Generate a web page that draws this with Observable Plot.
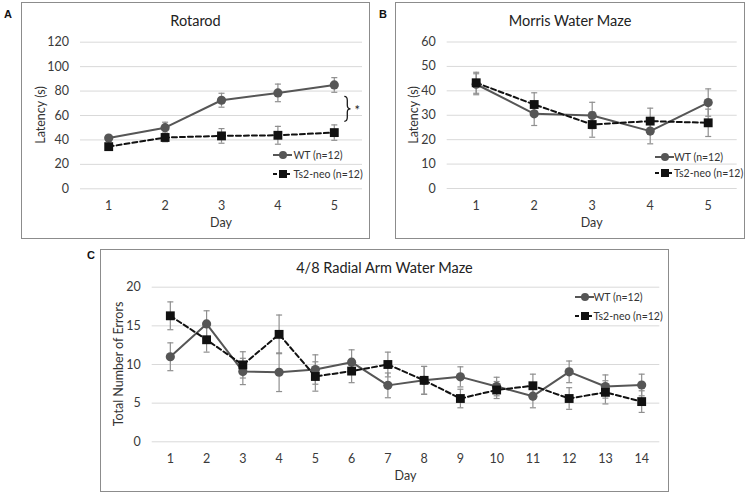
<!DOCTYPE html>
<html>
<head>
<meta charset="utf-8">
<script src="https://cdn.jsdelivr.net/npm/d3@7"></script>
<script src="https://cdn.jsdelivr.net/npm/@observablehq/plot@0.6"></script>
<style>
  html, body { margin: 0; padding: 0; background: #fff; }
  #root { position: relative; width: 750px; height: 496px; background: #fff; font-family: Lato, "Open Sans", sans-serif; color: #333; overflow: hidden; }
  .abs { position: absolute; white-space: nowrap; }
  .box { position: absolute; box-sizing: border-box; border: 1.5px solid #8c8c8c; pointer-events: none; }
  .title { font-size: 14.5px; color: #222; transform: translate(-50%, -50%); }
  .letter { font-family: "Liberation Sans", Arial, sans-serif; font-weight: bold; font-size: 11px; color: #111; transform: translate(-50%, -50%); }
  .xlab { font-size: 12.5px; color: #333; transform: translate(-50%, -50%); }
  .ylab { font-size: 12.5px; color: #333; transform: translate(-50%, -50%) rotate(-90deg); }
  .leg { font-size: 10.5px; color: #333; transform: translateY(-50%); }
</style>
</head>
<body>
<div id="root"></div>
<script>
// ---------- Data ----------
const rotarodDays = [1, 2, 3, 4, 5];
const rotarodWT = [41.5, 50, 72.5, 78.5, 85];
const rotarodWTErr = [2, 4.5, 5.7, 7.2, 6];
const rotarodTs2 = [34.5, 42, 43.3, 43.8, 46];
const rotarodTs2Err = [2, 3.5, 6, 7.3, 6.3];
const rotarodYTicks = [0, 20, 40, 60, 80, 100, 120];

const morrisDays = [1, 2, 3, 4, 5];
const morrisWT = [42.7, 30.6, 29.9, 23.5, 35.2];
const morrisWTErr = [4.3, 4.8, 5.4, 5.2, 5.6];
const morrisTs2 = [43.3, 34.4, 26.2, 27.6, 26.9];
const morrisTs2Err = [4.3, 4.8, 5.2, 5.3, 5.6];
const morrisYTicks = [0, 10, 20, 30, 40, 50, 60];

const ramDays = [1, 2, 3, 4, 5, 6, 7, 8, 9, 10, 11, 12, 13, 14];
const ramWT = [11.0, 15.25, 9.1, 9.0, 9.35, 10.3, 7.3, 7.95, 8.4, 7.15, 5.9, 9.05, 7.15, 7.35];
const ramWTErr = [1.8, 1.7, 1.7, 2.5, 1.9, 1.6, 1.6, 1.8, 1.3, 1.2, 1.5, 1.4, 1.5, 1.4];
const ramTs2 = [16.3, 13.2, 9.95, 13.9, 8.45, 9.15, 10.0, 7.95, 5.6, 6.7, 7.25, 5.6, 6.4, 5.2];
const ramTs2Err = [1.8, 1.6, 1.7, 2.5, 1.9, 1.5, 1.6, 1.8, 1.2, 1.1, 1.5, 1.4, 1.5, 1.4];
const ramYTicks = [0, 5, 10, 15, 20];

const seriesNames = ["WT (n=12)", "Ts2-neo (n=12)"];
const xLabel = "Day";

// ---------- Styles ----------
const WT_COLOR = "#565656";
const TS_COLOR = "#111111";
const ERR_COLOR = "#8f8f8f";
const GRID_COLOR = "#d9d9d9";
const FONT = "Lato, 'Open Sans', sans-serif";

const capSymbol = {
  draw(ctx, size) {
    const r = Math.sqrt(size) / 2;
    ctx.moveTo(-r, 0);
    ctx.lineTo(r, 0);
  }
};

// curly brace "}" shape used for the significance annotation
const braceSymbol = {
  draw(ctx) {
    ctx.moveTo(-3, -12.5);
    ctx.quadraticCurveTo(0, -12.5, 0, -8.5);
    ctx.lineTo(0, -3.5);
    ctx.quadraticCurveTo(0, 0, 3.2, 0);
    ctx.quadraticCurveTo(0, 0, 0, 3.5);
    ctx.lineTo(0, 8.5);
    ctx.quadraticCurveTo(0, 12.5, -3, 12.5);
  }
};

const root = document.getElementById("root");

function addDiv(cls, text, x, y) {
  const d = document.createElement("div");
  d.className = "abs " + cls;
  d.textContent = text;
  d.style.left = x + "px";
  d.style.top = y + "px";
  root.appendChild(d);
  return d;
}

function addLegend(x, y, rowGap, textX) {
  const ns = "http://www.w3.org/2000/svg";
  [0, 1].forEach(i => {
    const cy = y + i * rowGap;
    const svg = document.createElementNS(ns, "svg");
    svg.setAttribute("width", 20);
    svg.setAttribute("height", 12);
    svg.style.position = "absolute";
    svg.style.left = x + "px";
    svg.style.top = (cy - 6) + "px";
    const line = document.createElementNS(ns, "line");
    line.setAttribute("x1", 0); line.setAttribute("x2", 19);
    line.setAttribute("y1", 6); line.setAttribute("y2", 6);
    line.setAttribute("stroke", i === 0 ? WT_COLOR : TS_COLOR);
    line.setAttribute("stroke-width", 2);
    if (i === 1) line.setAttribute("stroke-dasharray", "4,2.5");
    svg.appendChild(line);
    let m;
    if (i === 0) {
      m = document.createElementNS(ns, "circle");
      m.setAttribute("cx", 10); m.setAttribute("cy", 6); m.setAttribute("r", 4);
      m.setAttribute("fill", WT_COLOR);
    } else {
      m = document.createElementNS(ns, "rect");
      m.setAttribute("x", 6); m.setAttribute("y", 2); m.setAttribute("width", 8); m.setAttribute("height", 8);
      m.setAttribute("fill", TS_COLOR);
    }
    svg.appendChild(m);
    root.appendChild(svg);
    addDiv("leg", seriesNames[i], textX, cy);
  });
}

function panel(cfg) {
  const { box, m, days, wt, wtErr, ts, tsErr, yTicks, title, letter, ylabel } = cfg;
  const wtData = days.map((d, i) => ({ day: d, v: wt[i], e: wtErr[i] }));
  const tsData = days.map((d, i) => ({ day: d, v: ts[i], e: tsErr[i] }));
  const errData = tsData.concat(wtData);
  const extra = cfg.extraMarks ? cfg.extraMarks(wtData, tsData) : [];
  const chart = Plot.plot({
    width: box.w, height: box.h,
    marginLeft: m.l, marginRight: m.r, marginTop: m.t, marginBottom: m.b,
    style: { fontFamily: FONT, fontSize: "12.5px", color: "#3a3a3a", background: "transparent", overflow: "visible" },
    x: { type: "linear", domain: [0.5, days.length + 0.5], ticks: days, tickFormat: d => String(d), tickSize: 0, tickPadding: 12.3, label: null, line: false },
    y: { domain: [0, yTicks[yTicks.length - 1]], ticks: yTicks, tickSize: 0, tickPadding: 11.5, label: null, line: false },
    marks: [
      Plot.ruleY(yTicks, { stroke: GRID_COLOR, strokeWidth: 1 }),
      Plot.ruleX(errData, { x: "day", y1: d => d.v - d.e, y2: d => d.v + d.e, stroke: ERR_COLOR, strokeWidth: 1.2 }),
      Plot.dot(errData, { x: "day", y: d => d.v + d.e, symbol: capSymbol, r: 3.4, fill: "none", stroke: ERR_COLOR, strokeWidth: 1.2 }),
      Plot.dot(errData, { x: "day", y: d => d.v - d.e, symbol: capSymbol, r: 3.4, fill: "none", stroke: ERR_COLOR, strokeWidth: 1.2 }),
      Plot.line(wtData, { x: "day", y: "v", stroke: WT_COLOR, strokeWidth: 2 }),
      Plot.line(tsData, { x: "day", y: "v", stroke: TS_COLOR, strokeWidth: 2, strokeDasharray: "5,3" }),
      Plot.dot(wtData, { x: "day", y: "v", symbol: "circle", r: 4.6, fill: WT_COLOR, stroke: "none" }),
      Plot.dot(tsData, { x: "day", y: "v", symbol: "square", r: 5.0, fill: TS_COLOR, stroke: "none" }),
      ...extra
    ]
  });
  chart.style.position = "absolute";
  chart.style.left = box.x + "px";
  chart.style.top = box.y + "px";
  root.appendChild(chart);

  const bd = document.createElement("div");
  bd.className = "box";
  bd.style.left = box.x + "px"; bd.style.top = box.y + "px";
  bd.style.width = box.w + "px"; bd.style.height = box.h + "px";
  root.appendChild(bd);

  const plotLeft = box.x + m.l, plotRight = box.x + box.w - m.r;
  const plotTop = box.y + m.t, plotBottom = box.y + box.h - m.b;
  addDiv("title", title, box.x + box.w / 2, box.y + cfg.titleDy);
  addDiv("letter", letter, cfg.letterPos[0], cfg.letterPos[1]);
  addDiv("xlab", xLabel, (plotLeft + plotRight) / 2, plotBottom + 33.5);
  addDiv("ylab", ylabel, cfg.ylabX, (plotTop + plotBottom) / 2);
  addLegend(cfg.legend[0], cfg.legend[1], cfg.legend[2], cfg.legend[3]);
}

panel({
  box: { x: 21, y: 2, w: 349, h: 237 },
  m: { l: 59, r: 8, t: 39.7, b: 50.7 },
  days: rotarodDays, wt: rotarodWT, wtErr: rotarodWTErr, ts: rotarodTs2, tsErr: rotarodTs2Err,
  yTicks: rotarodYTicks, title: "Rotarod", letter: "A", ylabel: "Latency (s)",
  titleDy: 18, letterPos: [8, 14], ylabX: 40,
  legend: [273, 155, 18.7, 293.5],
  extraMarks: (wtData, tsData) => {
    const last = [{ day: wtData[wtData.length - 1].day, mid: (wtData[wtData.length - 1].v + tsData[tsData.length - 1].v) / 2 }];
    return [
      Plot.dot(last, { x: "day", y: "mid", symbol: braceSymbol, r: 5, dx: 13, fill: "none", stroke: "#1a1a1a", strokeWidth: 1.3 }),
      Plot.text(last, { x: "day", y: "mid", text: () => "*", dx: 23, dy: 2, fontSize: 13, fill: "#1a1a1a", fontFamily: FONT })
    ];
  }
});

panel({
  box: { x: 395, y: 2, w: 350, h: 237 },
  m: { l: 51.7, r: 8.3, t: 39.5, b: 51 },
  days: morrisDays, wt: morrisWT, wtErr: morrisWTErr, ts: morrisTs2, tsErr: morrisTs2Err,
  yTicks: morrisYTicks, title: "Morris Water Maze", letter: "B", ylabel: "Latency (s)",
  titleDy: 18, letterPos: [383, 14], ylabX: 413.3,
  legend: [655, 156.7, 16, 674]
});

panel({
  box: { x: 100, y: 249, w: 569, h: 243 },
  m: { l: 51.7, r: 9.7, t: 37.7, b: 50.7 },
  days: ramDays, wt: ramWT, wtErr: ramWTErr, ts: ramTs2, tsErr: ramTs2Err,
  yTicks: ramYTicks, title: "4/8 Radial Arm Water Maze", letter: "C", ylabel: "Total Number of Errors",
  titleDy: 17.7, letterPos: [91, 255], ylabX: 118.3,
  legend: [575, 296.7, 19.3, 593.5]
});
</script>
</body>
</html>
